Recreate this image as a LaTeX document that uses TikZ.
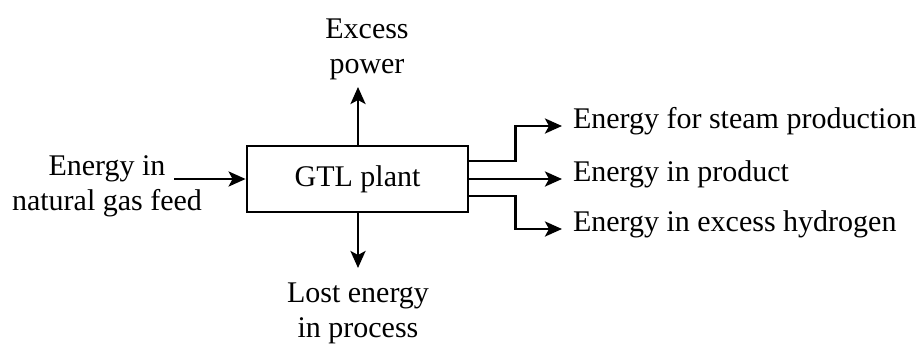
\documentclass[tikz,border=0pt]{standalone}
\usepackage{fontspec}
\setmainfont{Liberation Serif}
\usetikzlibrary{arrows.meta}
\begin{document}
\begin{tikzpicture}[x=1pt,y=-1pt,
  flow/.style={line width=2.8pt, -{Stealth[length=17pt,width=15pt,inset=4pt]}},
  lbl/.style={font=\fontsize{30}{35}\selectfont, inner sep=0pt, outer sep=0pt, align=center},
  plantbox/.style={draw, line width=2.8pt, minimum width=221pt, minimum height=66pt, inner sep=0pt, font=\fontsize{30}{35}\selectfont}]
\useasboundingbox (0,0) rectangle (924,343);
\node[plantbox] (plant) at (357.5,179) {GTL plant};
% labels
\node[lbl] (feed) at (107,186) {Energy in\\natural gas feed};
\node[lbl, anchor=south] (excess) at (367,80) {Excess\\power};
\node[lbl, anchor=north] (lost) at (358,283) {Lost energy\\in process};
\node[lbl, anchor=mid west] (steam) at (573,126) {Energy for steam production};
\node[lbl, anchor=mid west] (product) at (573,179) {Energy in product};
\node[lbl, anchor=mid west] (hydrogen) at (573,229) {Energy in excess hydrogen};
% connector ends
\coordinate (feedStart) at (174,179);
\coordinate (topEnd) at (358,87);
\coordinate (botEnd) at (358,268);
% connectors
\draw[flow] (feedStart) -- (plant.west);
\draw[flow] (plant.north -| topEnd) -- (topEnd);
\draw[flow] (plant.south -| botEnd) -- (botEnd);
\draw[flow, shorten >=11pt] ([yshift=18pt]plant.east) -- ++(46,0) |- (steam.mid west);
\draw[flow, shorten >=11pt] (plant.east) -- (plant.east -| product.mid west);
\draw[flow, shorten >=11pt] ([yshift=-17pt]plant.east) -- ++(46,0) |- (hydrogen.mid west);
\end{tikzpicture}
\end{document}
